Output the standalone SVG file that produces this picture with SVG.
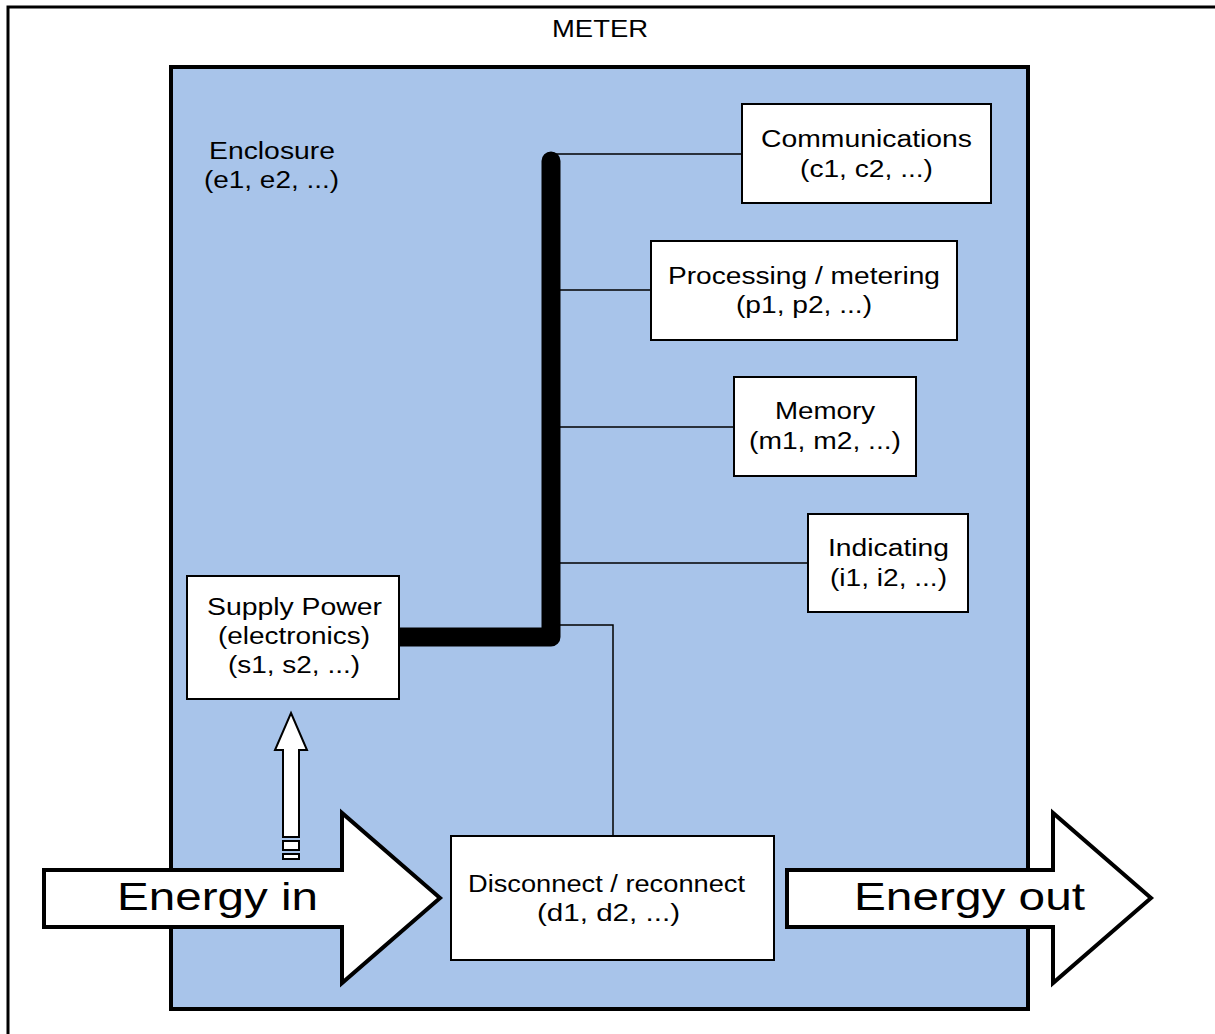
<svg xmlns="http://www.w3.org/2000/svg" width="1215" height="1034" viewBox="0 0 1215 1034">
  <style>
    text { font-family: "Liberation Sans", Arial, sans-serif; font-size: 23px; fill: #000; text-anchor: start; }
    .big { font-size: 39px; }
    .box { fill: #fff; stroke: #000; stroke-width: 2; }
    .wire { fill: none; stroke: #000; stroke-width: 1.5; }
    .bus { fill: none; stroke: #000; stroke-width: 19; stroke-linecap: round; stroke-linejoin: round; }
    .flow { fill: #fff; stroke: #000; stroke-width: 4; stroke-linejoin: miter; }
  </style>

  <rect width="1215" height="1034" fill="#fff"/>

  <!-- meter outline -->
  <g id="meter">
    <rect x="8" y="7" width="1230" height="1050" fill="none" stroke="#000" stroke-width="3"/>
    <text x="552" y="37" textLength="96" lengthAdjust="spacingAndGlyphs">METER</text>
  </g>

  <!-- enclosure -->
  <g id="enclosure">
    <rect x="171" y="67" width="857" height="942" fill="#a8c4ea" stroke="#000" stroke-width="4"/>
    <text x="209" y="159" textLength="126" lengthAdjust="spacingAndGlyphs">Enclosure</text>
    <text x="204" y="188" textLength="135" lengthAdjust="spacingAndGlyphs">(e1, e2, ...)</text>
  </g>

  <!-- connectors -->
  <g id="connectors">
    <path class="wire" d="M551 154 H742"/>
    <path class="wire" d="M551 290 H651"/>
    <path class="wire" d="M551 427 H734"/>
    <path class="wire" d="M551 563 H808"/>
    <path class="wire" d="M551 625 H613 V836"/>
    <path class="bus" d="M551 161 V637 H400"/>
  </g>

  <g id="communications">
    <rect class="box" x="742" y="104" width="249" height="99"/>
    <text x="761" y="147" textLength="211" lengthAdjust="spacingAndGlyphs">Communications</text>
    <text x="800" y="177" textLength="133" lengthAdjust="spacingAndGlyphs">(c1, c2, ...)</text>
  </g>

  <g id="processing">
    <rect class="box" x="651" y="241" width="306" height="99"/>
    <text x="668" y="284" textLength="272" lengthAdjust="spacingAndGlyphs">Processing / metering</text>
    <text x="736" y="313" textLength="136" lengthAdjust="spacingAndGlyphs">(p1, p2, ...)</text>
  </g>

  <g id="memory">
    <rect class="box" x="734" y="377" width="182" height="99"/>
    <text x="775" y="419" textLength="100" lengthAdjust="spacingAndGlyphs">Memory</text>
    <text x="749" y="449" textLength="152" lengthAdjust="spacingAndGlyphs">(m1, m2, ...)</text>
  </g>

  <g id="indicating">
    <rect class="box" x="808" y="514" width="160" height="98"/>
    <text x="828" y="556" textLength="121" lengthAdjust="spacingAndGlyphs">Indicating</text>
    <text x="830" y="586" textLength="117" lengthAdjust="spacingAndGlyphs">(i1, i2, ...)</text>
  </g>

  <g id="supply-power">
    <rect class="box" x="187" y="576" width="212" height="123"/>
    <text x="207" y="615" textLength="175" lengthAdjust="spacingAndGlyphs">Supply Power</text>
    <text x="218" y="644" textLength="152" lengthAdjust="spacingAndGlyphs">(electronics)</text>
    <text x="228" y="673" textLength="132" lengthAdjust="spacingAndGlyphs">(s1, s2, ...)</text>
  </g>

  <!-- tap feeding the supply -->
  <g id="supply-feed" fill="#fff" stroke="#000" stroke-width="2">
    <polygon points="291,713 307,750 299,750 299,837 283,837 283,750 275,750"/>
    <rect x="283" y="841" width="16" height="9"/>
    <rect x="283" y="854" width="16" height="5"/>
  </g>

  <g id="energy-in">
    <polygon class="flow" points="44,870 342,870 342,813 440,898 342,983 342,927 44,927"/>
    <text class="big" x="117" y="910" textLength="201" lengthAdjust="spacingAndGlyphs">Energy in</text>
  </g>

  <g id="disconnect">
    <rect class="box" x="451" y="836" width="323" height="124"/>
    <text x="468" y="892" textLength="277" lengthAdjust="spacingAndGlyphs">Disconnect / reconnect</text>
    <text x="537" y="921" textLength="143" lengthAdjust="spacingAndGlyphs">(d1, d2, ...)</text>
  </g>

  <g id="energy-out">
    <polygon class="flow" points="787,870 1053,870 1053,813 1151,898 1053,983 1053,927 787,927"/>
    <text class="big" x="854" y="910" textLength="231" lengthAdjust="spacingAndGlyphs">Energy out</text>
  </g>
</svg>
